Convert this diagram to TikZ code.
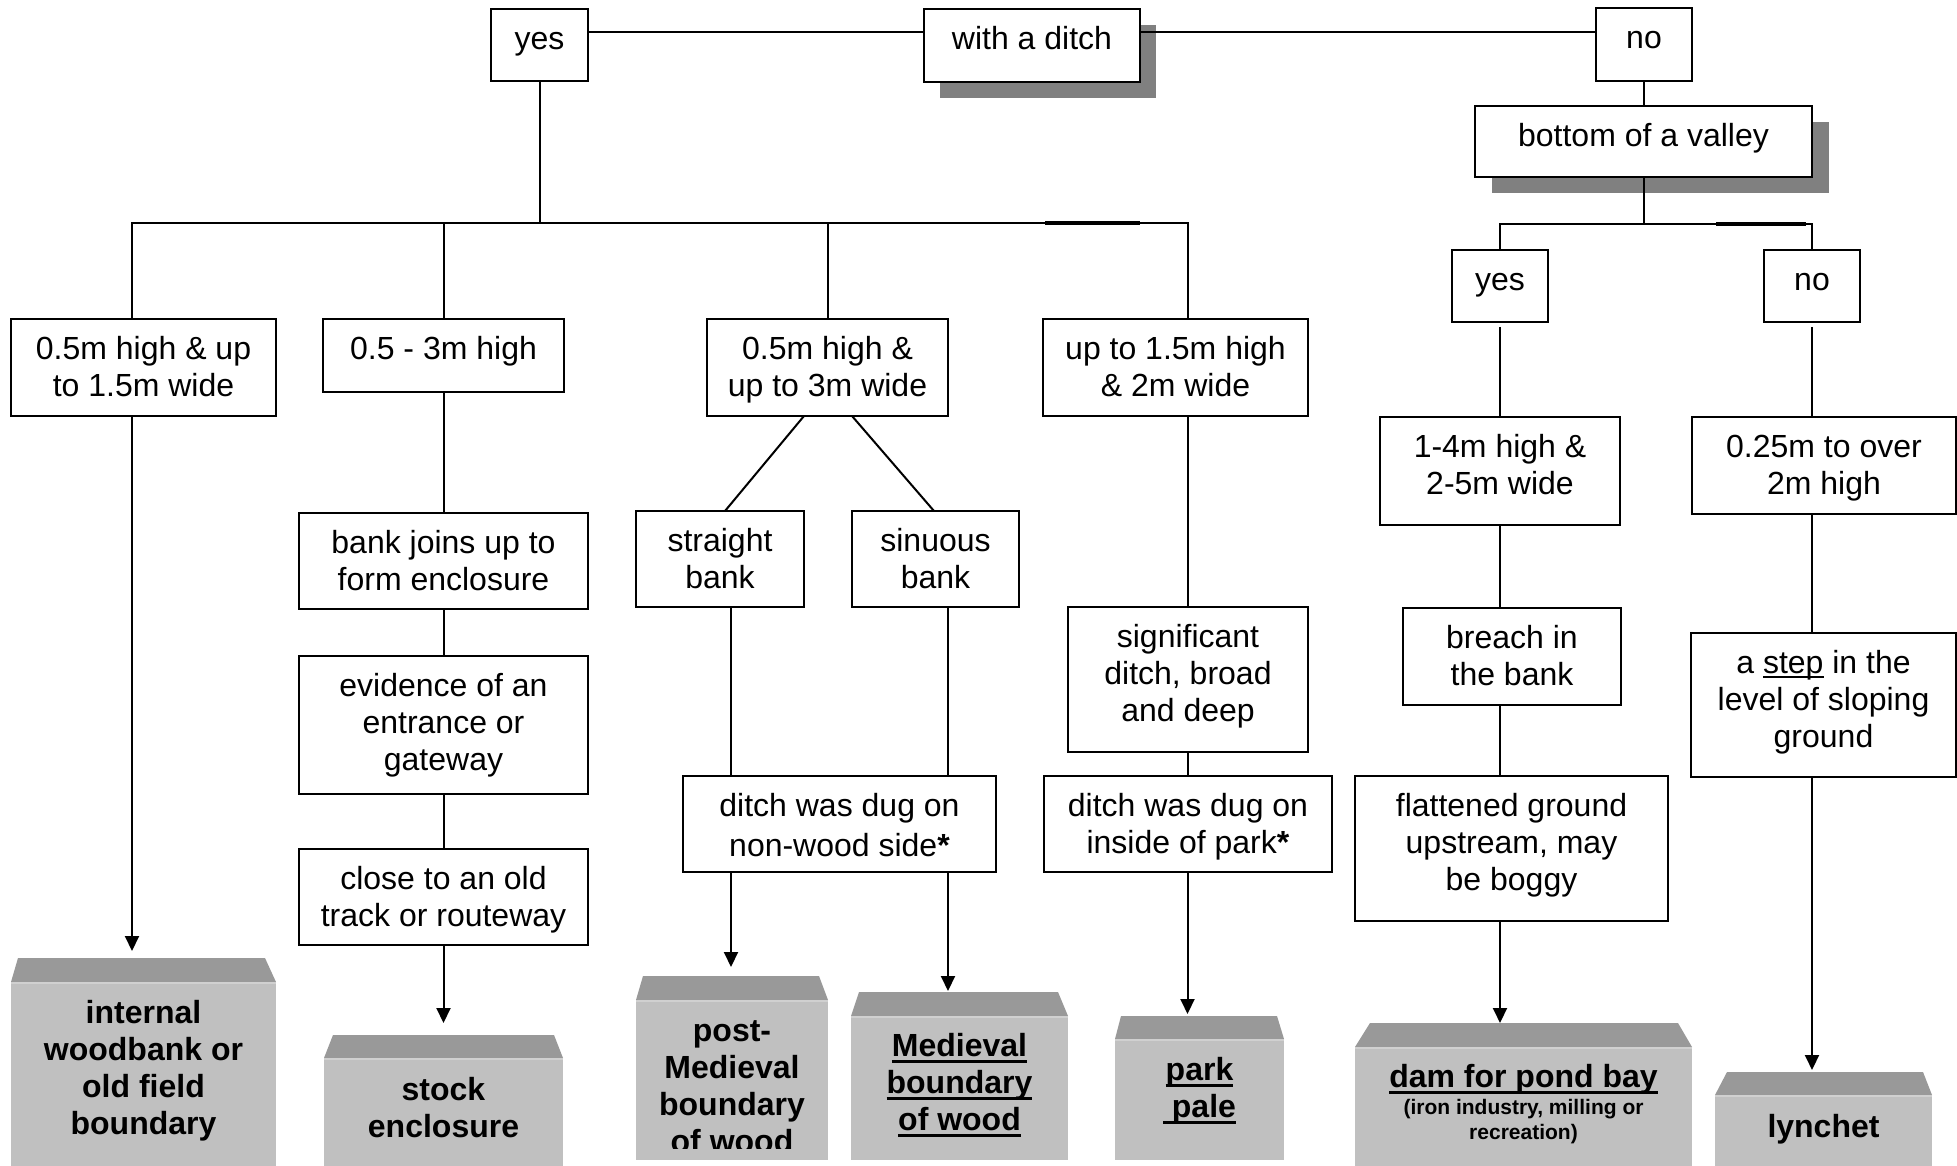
\documentclass[tikz,border=0pt]{standalone}
\usepackage{fontspec}
\setmainfont{Liberation Sans}
\usetikzlibrary{arrows.meta,backgrounds}
\definecolor{roofgray}{HTML}{999999}
\definecolor{bodygray}{HTML}{C0C0C0}
\definecolor{shadowgray}{HTML}{808080}
\definecolor{seamgray}{HTML}{D0D0D0}
\newcommand\bt[3]{\parbox[c][#2pt][t]{#1pt}{\centering\vspace*{15pt}\strut #3}}
\newcommand\ulx[1]{\leavevmode\setbox0=\hbox{#1}\rlap{\rule[-4.5pt]{\wd0}{2pt}}\box0\relax}
\newcommand\ulb[1]{\leavevmode\setbox0=\hbox{#1}\rlap{\rule[-6.5pt]{\wd0}{3pt}}\box0\relax}
\begin{document}
\begin{tikzpicture}[x=1pt,y=-1pt,
  box/.style={draw, line width=2pt, fill=white, inner sep=0pt, outer sep=0pt, font=\fontsize{32}{37}\selectfont},
  ln/.style={line width=2pt},
  arr/.style={line width=2pt, -{Triangle[length=15pt,width=14pt]}},
  body/.style={fill=bodygray, inner sep=0pt, outer sep=0pt},
  roof/.style={fill=roofgray},
  seam/.style={draw=seamgray, line width=2pt},
  rtext/.style={font=\bfseries\fontsize{32}{37}\selectfont, align=center, inner sep=0pt},
  shadow/.style={fill=shadowgray}
]
\begin{scope}[on background layer]
  \fill[white] (0,0) rectangle (1957,1166);
\end{scope}
\useasboundingbox (0,0) rectangle (1957,1166);

% helper coordinates
\coordinate (topline) at (0,32);
\coordinate (barL) at (0,223);
\coordinate (barR) at (0,224);
\coordinate (v1) at (132,0);
\coordinate (v4) at (1187.5,0);
\coordinate (vS) at (731,0);
\coordinate (vN) at (948,0);

% decision boxes
\node[box] (yesA) at (539.5,45) {\bt{97}{72}{yes}};
\node[box] (ditch) at (1032,45.5) {\bt{216}{73}{with a ditch}};
\node[box] (noA) at (1644,44.5) {\bt{96}{73}{no}};
\node[box] (valley) at (1643.5,141.5) {\bt{337}{71}{bottom of a valley}};
\node[box] (B1) at (143.5,367.5) {\bt{265}{97}{0.5m high \& up\\to 1.5m wide}};
\node[box] (B2) at (443.5,355.5) {\bt{241}{73}{0.5 - 3m high}};
\node[box] (B3) at (827.5,367.5) {\bt{241}{97}{0.5m high \&\\up to 3m wide}};
\node[box] (B4) at (1175.5,367.5) {\bt{265}{97}{up to 1.5m high\\\& 2m wide}};
\node[box] (yesB) at (1500,286) {\bt{96}{72}{yes}};
\node[box] (noB) at (1812,286) {\bt{96}{72}{no}};
\node[box] (C1) at (443.5,561) {\bt{289}{96}{bank joins up to\\form enclosure}};
\node[box] (C2) at (443.5,725) {\bt{289}{138}{evidence of an\\entrance or\\gateway}};
\node[box] (C3) at (443.5,897) {\bt{289}{96}{close to an old\\track or routeway}};
\node[box] (S) at (720,559) {\bt{168}{96}{straight\\bank}};
\node[box] (N) at (935.5,559) {\bt{167}{96}{sinuous\\bank}};
\node[box] (DA) at (839.5,824) {\bt{313}{96}{\baselineskip=40pt ditch was dug on\\non-wood side\textbf{*}}};
\node[box] (G) at (1188,679.5) {\bt{240}{145}{significant\\ditch, broad\\and deep}};
\node[box] (DB) at (1188,824) {\bt{288}{96}{ditch was dug on\\inside of park\textbf{*}}};
\node[box] (H1) at (1500,471) {\bt{240}{108}{1-4m high \&\\2-5m wide}};
\node[box] (H2) at (1512,656.5) {\bt{218}{97}{breach in\\the bank}};
\node[box] (H3) at (1511.5,848.5) {\bt{313}{145}{flattened ground\\upstream, may\\be boggy}};
\node[box] (Q1) at (1824,465.5) {\bt{264}{97}{0.25m to over\\2m high}};
\node[box] (Q2) at (1823.5,705) {\bt{265}{144}{a \ulx{step} in the\\level of sloping\\ground}};

% shadows
\begin{scope}[on background layer]
  \fill[shadow] ([xshift=16pt,yshift=-16pt]ditch.south west) rectangle ([xshift=16pt,yshift=-16pt]ditch.north east);
  \fill[shadow] ([xshift=17pt,yshift=-16pt]valley.south west) rectangle ([xshift=17pt,yshift=-16pt]valley.north east);
\end{scope}

% result boxes
\node[body, minimum width=265pt, minimum height=184pt] (R1) at (143.5,1074) {};
\node[body, minimum width=239pt, minimum height=108pt] (R2) at (443.5,1112) {};
\node[body, minimum width=192pt, minimum height=160pt] (R3) at (732,1080) {};
\node[body, minimum width=217pt, minimum height=144pt] (R4) at (959.5,1088) {};
\node[body, minimum width=169pt, minimum height=121pt] (R5) at (1199.5,1099.5) {};
\node[body, minimum width=337pt, minimum height=119pt] (R6) at (1523.5,1106.5) {};
\node[body, minimum width=217pt, minimum height=71pt] (R7) at (1823.5,1130.5) {};
\fill[roof] (R1.north west) -- ([xshift=7pt,yshift=24pt]R1.north west) -- ([xshift=-11pt,yshift=24pt]R1.north east) -- (R1.north east) -- cycle;
\fill[roof] (R2.north west) -- ([xshift=9pt,yshift=23pt]R2.north west) -- ([xshift=-9pt,yshift=23pt]R2.north east) -- (R2.north east) -- cycle;
\fill[roof] (R3.north west) -- ([xshift=7pt,yshift=24pt]R3.north west) -- ([xshift=-9pt,yshift=24pt]R3.north east) -- (R3.north east) -- cycle;
\fill[roof] (R4.north west) -- ([xshift=8pt,yshift=24pt]R4.north west) -- ([xshift=-10pt,yshift=24pt]R4.north east) -- (R4.north east) -- cycle;
\fill[roof] (R5.north west) -- ([xshift=6pt,yshift=23pt]R5.north west) -- ([xshift=-7pt,yshift=23pt]R5.north east) -- (R5.north east) -- cycle;
\fill[roof] (R6.north west) -- ([xshift=15pt,yshift=24pt]R6.north west) -- ([xshift=-14pt,yshift=24pt]R6.north east) -- (R6.north east) -- cycle;
\fill[roof] (R7.north west) -- ([xshift=12pt,yshift=23pt]R7.north west) -- ([xshift=-9pt,yshift=23pt]R7.north east) -- (R7.north east) -- cycle;
\foreach \r in {R1,R2,R3,R4,R5,R6,R7}{
  \draw[seam] ([yshift=-1pt]\r.north west) -- ([yshift=-1pt]\r.north east);
}
\node[rtext] (R1t) at (143.5,1071) {internal\\woodbank or\\old field\\boundary};
\node[rtext] (R2t) at (443.5,1108) {stock\\enclosure};
\begin{scope}
  \clip ([yshift=12pt]R3.south west) rectangle (R3.north east);
  \node[rtext] (R3t) at (732,1087) {post-\\Medieval\\boundary\\of wood};
\end{scope}
\node[rtext] (R4t) at (959.5,1085) {\ulb{Medieval}\\\ulb{boundary}\\\ulb{of wood}};
\node[rtext] (R5t) at (1199.5,1091) {\ulb{park}\\\ulb{\ pale}};
\node[rtext] (R6t) at (1523.5,1079) {\ulb{dam for pond bay}};
\node[rtext, font=\bfseries\fontsize{21}{25}\selectfont] (R6s) at (1523.5,1122) {(iron industry, milling or\\recreation)};
\node[rtext] (R7t) at (1823.5,1129) {lynchet};

% connectors
\draw[ln] (yesA.east |- topline) -- (ditch.west |- topline);
\draw[ln] (ditch.east |- topline) -- (noA.west |- topline);
\draw[ln] (noA.south) -- (valley.north -| noA.south);
\draw[ln] (yesA.south) -- (yesA.south |- barL);
\draw[ln] (B1.north -| v1) -- (v1 |- barL) -- (v4 |- barL) -- (B4.north -| v4);
\draw[ln] (B2.north) -- (B2.north |- barL);
\draw[ln] (B3.north) -- (B3.north |- barL);
\draw[line width=3.5pt] (1045,223) -- (1140,223);
\draw[ln] (valley.south) -- (valley.south |- barR);
\draw[ln] (yesB.north) -- (yesB.north |- barR) -- (noB.north |- barR) -- (noB.north);
\draw[line width=3.5pt] (1716,224) -- (1806,224);

\draw[arr, shorten >=31pt] (B1.south -| v1) -- (R1.north -| v1);
\draw[ln] (B2.south) -- (C1.north);
\draw[ln] (C1.south) -- (C2.north);
\draw[ln] (C2.south) -- (C3.north);
\draw[arr, shorten >=35pt] (C3.south) -- (R2.north -| C3.south);
\draw[ln] ([xshift=-23.5pt]B3.south) -- ([xshift=5pt]S.north);
\draw[ln] ([xshift=24.5pt]B3.south) -- ([xshift=-1.5pt]N.north);
\draw[ln] (S.south -| vS) -- (DA.north -| vS);
\draw[ln] (N.south -| vN) -- (DA.north -| vN);
\draw[arr, shorten >=33pt] (DA.south -| vS) -- (R3.north -| vS);
\draw[arr, shorten >=25pt] (DA.south -| vN) -- (R4.north -| vN);
\draw[ln] (B4.south -| v4) -- (G.north -| v4);
\draw[ln] (G.south -| v4) -- (DB.north -| v4);
\draw[arr, shorten >=25pt] (DB.south -| v4) -- (R5.north -| v4);
\draw[ln] ([yshift=-5pt]yesB.south) -- (H1.north);
\draw[ln] (H1.south) -- (H2.north -| H1.south);
\draw[ln] (H2.south -| H1.south) -- (H3.north -| H1.south);
\draw[arr, shorten >=24pt] (H3.south -| H1.south) -- (R6.north -| H1.south);
\draw[ln] ([yshift=-5pt]noB.south) -- (Q1.north -| noB.south);
\draw[ln] (Q1.south -| noB.south) -- (Q2.north -| noB.south);
\draw[arr, shorten >=25pt] (Q2.south -| noB.south) -- (R7.north -| noB.south);
\end{tikzpicture}
\end{document}
